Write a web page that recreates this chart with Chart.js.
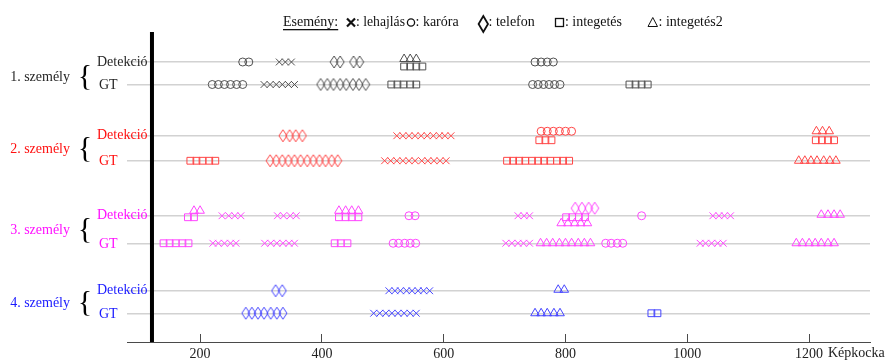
<!DOCTYPE html>
<html>
<head>
<meta charset="utf-8">
<script src="https://cdn.jsdelivr.net/npm/chart.js@4.4.1/dist/chart.umd.min.js"></script>
<style>
  html, body { margin: 0; padding: 0; background: #fff; }
  #wrap { width: 888px; height: 360px; }
</style>
</head>
<body>
<div id="wrap"><canvas id="chart" width="888" height="360"></canvas></div>
<script>
// rows
const persons = ['1. személy', '2. személy', '3. személy', '4. személy'];
const personColors = ['#262626', '#ff1010', '#ff10ff', '#1a1aff'];
const markerColors = ['#505050', '#ff4545', '#ff45ff', '#4545ff'];
const laneDet = [11.2, 8.25, 5.05, 2.05];
const laneGT = [10.3, 7.25, 3.95, 1.15];
const xTicks = [200, 400, 600, 800, 1000, 1200];
const cutoffFrame = 121;

// 1. személy
const p1DetLehajlas = [330, 340, 350];
const p1DetKarora = [270, 280, 750, 760, 770, 780];
const p1DetTelefon = [420, 430, 452, 462];
const p1DetIntegetes = [535, 545, 555, 565];
const p1DetIntegetes2 = [535, 545, 555];
const p1GTLehajlas = [305, 315, 325, 335, 345, 355];
const p1GTKarora = [220, 230, 240, 250, 260, 270, 746, 755, 764, 773, 782, 791];
const p1GTTelefon = [398, 409, 419, 430, 440, 451, 461, 472];
const p1GTIntegetes = [514, 524, 534, 545, 555, 905, 915, 925, 935];

// 2. személy
const p2DetTelefon = [336, 347, 357, 368];
const p2DetLehajlas = [523, 533, 543, 553, 563, 573, 583, 593, 602, 612];
const p2DetKarora = [760, 770, 780, 790, 800, 810];
const p2DetIntegetes = [757, 767, 777, 1211, 1221, 1231, 1241];
const p2DetIntegetes2 = [1212, 1222, 1233];
const p2GTIntegetes = [184, 194, 204, 215, 225, 704, 714, 724, 734, 745, 755, 765, 775, 786, 796, 806];
const p2GTTelefon = [315, 325, 335, 345, 355, 365, 376, 386, 396, 406, 416, 426];
const p2GTLehajlas = [503, 513, 523, 533, 543, 553, 564, 574, 584, 594, 604];
const p2GTIntegetes2 = [1183, 1193, 1203, 1213, 1224, 1234, 1244];

// 3. személy
const p3DetIntegetes = [180, 190, 428, 439, 449, 460, 801, 811, 822, 832];
const p3DetIntegetes2Upper = [190, 200, 428, 439, 449, 460];
const p3DetIntegetes2Lower = [793, 804, 815, 825, 836];
const p3DetIntegetes2 = [1220, 1231, 1241, 1251];
const p3DetLehajlas = [236, 247, 257, 267, 327, 337, 348, 358, 722, 732, 741, 1042, 1052, 1061, 1071];
const p3DetKarora = [543, 553, 925];
const p3DetTelefon = [816, 827, 838, 848];
const p3GTIntegetes = [140, 150, 160, 171, 181, 421, 431, 442];
const p3GTLehajlas = [221, 230, 240, 250, 259, 306, 316, 326, 336, 346, 355, 702, 712, 722, 731, 741, 1021, 1030, 1040, 1050, 1059];
const p3GTKarora = [517, 526, 536, 545, 554, 866, 875, 885, 894];
const p3GTIntegetes2 = [759, 769, 779, 790, 800, 810, 821, 831, 841, 1179, 1189, 1200, 1210, 1220, 1231, 1241];

// 4. személy
const p4DetTelefon = [324, 335];
const p4DetLehajlas = [510, 520, 529, 539, 548, 558, 567, 577];
const p4DetIntegetes2 = [788, 798];
const p4GTTelefon = [275, 285, 295, 305, 316, 326, 336];
const p4GTLehajlas = [485, 495, 505, 515, 525, 535, 545, 555];
const p4GTIntegetes2 = [750, 760, 770, 781, 791];
const p4GTIntegetes = [941, 951];

// tall diamond marker (telefon)
function diamond(color) {
  const c = document.createElement('canvas');
  c.width = 10; c.height = 14;
  const g = c.getContext('2d');
  g.strokeStyle = color; g.lineWidth = 1;
  g.beginPath();
  g.moveTo(5, 1); g.lineTo(9, 7); g.lineTo(5, 13); g.lineTo(1, 7);
  g.closePath(); g.stroke();
  return c;
}

const radius = { crossRot: 4.8, circle: 4, rect: 4.8, triangle: 5, diamond: 5 };

function series(frames, lane, shift, style, i) {
  const col = markerColors[i];
  return {
    type: 'scatter',
    data: frames.map(f => ({ x: f, y: lane + shift })),
    pointStyle: style === 'diamond' ? diamond(col) : style,
    pointRadius: radius[style],
    pointHoverRadius: radius[style],
    pointBorderWidth: 1,
    borderColor: col,
    backgroundColor: 'rgba(0,0,0,0)'
  };
}

const datasets = [
  series(p1DetLehajlas, laneDet[0], 0, 'crossRot', 0),
  series(p1DetKarora, laneDet[0], 0, 'circle', 0),
  series(p1DetTelefon, laneDet[0], 0, 'diamond', 0),
  series(p1DetIntegetes, laneDet[0], -0.18, 'rect', 0),
  series(p1DetIntegetes2, laneDet[0], 0.12, 'triangle', 0),
  series(p1GTLehajlas, laneGT[0], 0, 'crossRot', 0),
  series(p1GTKarora, laneGT[0], 0, 'circle', 0),
  series(p1GTTelefon, laneGT[0], 0, 'diamond', 0),
  series(p1GTIntegetes, laneGT[0], 0, 'rect', 0),

  series(p2DetTelefon, laneDet[1], 0, 'diamond', 1),
  series(p2DetLehajlas, laneDet[1], 0, 'crossRot', 1),
  series(p2DetKarora, laneDet[1], 0.18, 'circle', 1),
  series(p2DetIntegetes, laneDet[1], -0.18, 'rect', 1),
  series(p2DetIntegetes2, laneDet[1], 0.18, 'triangle', 1),
  series(p2GTIntegetes, laneGT[1], 0, 'rect', 1),
  series(p2GTTelefon, laneGT[1], 0, 'diamond', 1),
  series(p2GTLehajlas, laneGT[1], 0, 'crossRot', 1),
  series(p2GTIntegetes2, laneGT[1], 0, 'triangle', 1),

  series(p3DetIntegetes, laneDet[2], -0.06, 'rect', 2),
  series(p3DetIntegetes2Upper, laneDet[2], 0.2, 'triangle', 2),
  series(p3DetIntegetes2Lower, laneDet[2], -0.3, 'triangle', 2),
  series(p3DetIntegetes2, laneDet[2], 0.04, 'triangle', 2),
  series(p3DetLehajlas, laneDet[2], 0, 'crossRot', 2),
  series(p3DetKarora, laneDet[2], 0, 'circle', 2),
  series(p3DetTelefon, laneDet[2], 0.3, 'diamond', 2),
  series(p3GTIntegetes, laneGT[2], 0, 'rect', 2),
  series(p3GTLehajlas, laneGT[2], 0, 'crossRot', 2),
  series(p3GTKarora, laneGT[2], 0, 'circle', 2),
  series(p3GTIntegetes2, laneGT[2], 0, 'triangle', 2),

  series(p4DetTelefon, laneDet[3], 0, 'diamond', 3),
  series(p4DetLehajlas, laneDet[3], 0, 'crossRot', 3),
  series(p4DetIntegetes2, laneDet[3], 0.04, 'triangle', 3),
  series(p4GTTelefon, laneGT[3], 0, 'diamond', 3),
  series(p4GTLehajlas, laneGT[3], 0, 'crossRot', 3),
  series(p4GTIntegetes2, laneGT[3], 0, 'triangle', 3),
  series(p4GTIntegetes, laneGT[3], 0, 'rect', 3),

  // thick vertical marker line
  {
    type: 'line',
    data: [{ x: cutoffFrame, y: 0 }, { x: cutoffFrame, y: 12.4 }],
    borderColor: '#000',
    borderWidth: 4,
    pointRadius: 0
  }
];

const serif = '"Liberation Serif", "Times New Roman", serif';

// row labels, braces, legend and axis title
const labelsPlugin = {
  id: 'labels',
  afterDraw(chart) {
    const ctx = chart.ctx;
    const ys = chart.scales.y;
    ctx.save();
    ctx.textBaseline = 'middle';
    persons.forEach((name, i) => {
      const yd = ys.getPixelForValue(laneDet[i]);
      const yg = ys.getPixelForValue(laneGT[i]);
      const mid = (yd + yg) / 2 + (i === 0 ? 3 : 0);
      ctx.font = '14px ' + serif;
      ctx.fillStyle = personColors[i];
      ctx.textAlign = 'right';
      ctx.fillText(name, 70, mid + 1);
      ctx.textAlign = 'left';
      ctx.fillText('Detekció', 97, yd);
      ctx.fillText('GT', 99, yg + 1);
      ctx.fillStyle = '#000';
      ctx.font = '30px ' + serif;
      ctx.textAlign = 'center';
      ctx.fillText('{', 85, mid + 1);
    });

    // legend
    ctx.font = '14px ' + serif;
    ctx.fillStyle = '#111';
    ctx.strokeStyle = '#111';
    ctx.textAlign = 'left';
    ctx.fillText('Esemény:', 283, 22);
    ctx.fillRect(283, 29, ctx.measureText('Esemény:').width, 1.3);

    ctx.lineWidth = 2.2;
    ctx.beginPath();
    ctx.moveTo(347, 18.5); ctx.lineTo(355, 26.5);
    ctx.moveTo(355, 18.5); ctx.lineTo(347, 26.5);
    ctx.stroke();
    ctx.fillText(': lehajlás', 356, 22, 49);

    ctx.lineWidth = 1.3;
    ctx.beginPath();
    ctx.arc(411, 22.5, 3.6, 0, Math.PI * 2);
    ctx.stroke();
    ctx.fillText(': karóra', 415.5, 22, 49);

    ctx.lineWidth = 1.8;
    ctx.beginPath();
    ctx.moveTo(483.3, 16); ctx.lineTo(488, 24); ctx.lineTo(483.3, 32); ctx.lineTo(478.6, 24);
    ctx.closePath();
    ctx.stroke();
    ctx.fillText(': telefon', 488.5, 22, 46.5);

    ctx.lineWidth = 1.3;
    ctx.strokeRect(555.5, 18.5, 8, 8);
    ctx.fillText(': integetés', 565, 22, 57);

    ctx.lineWidth = 1;
    ctx.beginPath();
    ctx.moveTo(652.8, 17.5); ctx.lineTo(657.5, 26.5); ctx.lineTo(648, 26.5);
    ctx.closePath();
    ctx.stroke();
    ctx.fillText(': integetés2', 658.5, 22, 65);

    ctx.fillStyle = '#222';
    ctx.fillText('Képkocka', 828, 353);
    ctx.restore();
  }
};

new Chart(document.getElementById('chart'), {
  type: 'scatter',
  data: { datasets },
  options: {
    responsive: false,
    animation: false,
    events: [],
    layout: { padding: { left: 127, right: 18, top: 32, bottom: 0 } },
    plugins: { legend: { display: false }, tooltip: { enabled: false } },
    scales: {
      x: {
        type: 'linear',
        min: 80,
        max: 1300,
        afterBuildTicks: s => { s.ticks = xTicks.map(v => ({ value: v })); },
        afterFit: s => { s.height = 18; },
        border: { color: '#4a4a4a', width: 1 },
        grid: { drawOnChartArea: false, drawTicks: true, tickLength: -8, color: '#4a4a4a' },
        ticks: { padding: 12, color: '#222', font: { family: serif, size: 14 }, callback: v => String(v) }
      },
      y: {
        type: 'linear',
        min: 0,
        max: 12.4,
        afterBuildTicks: s => { s.ticks = laneDet.concat(laneGT).map(v => ({ value: v })); },
        afterFit: s => { s.width = 0; },
        border: { display: false },
        grid: { color: '#d2d2d2', lineWidth: 1.4, drawTicks: false },
        ticks: { display: false }
      }
    }
  },
  plugins: [labelsPlugin]
});
</script>
</body>
</html>
